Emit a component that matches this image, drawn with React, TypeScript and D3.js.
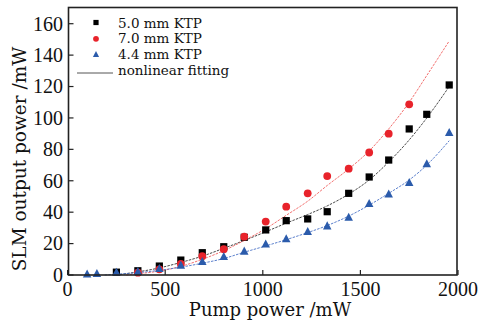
import React from "react";
import * as d3 from "d3";

// pump power (mW) where each series was measured
const pumpX = [100, 150, 250, 360, 470, 580, 690, 800, 905, 1015, 1120, 1230, 1330, 1440, 1545, 1645, 1750, 1840, 1955];

// measured output power (mW), null = not measured
const ktp50 = [null, null, 1.8, 2.7, 5.7, 9.5, 14.2, 18, 24, 28.7, 34.6, 35.7, 40.3, 52, 62.4, 73.2, 93, 102.3, 121];
const ktp70 = [null, null, null, 1.5, 3.6, 7, 12, 16.4, 24.4, 34, 43.5, 52, 63, 67.7, 78, 90, 108.7, null, null];
const ktp44 = [0.6, 0.9, 1.7, 2.1, 4, 6.2, 8.5, 11.7, 15.1, 19.7, 23, 27.6, 31.2, 36.7, 45.4, 51.5, 58.8, 70.7, 90.6];

// nonlinear fitting curves
const fit50X = [250, 360, 470, 580, 690, 800, 905, 1015, 1120, 1230, 1330, 1440, 1545, 1645, 1750, 1840, 1955];
const fit50Y = [0, 2, 4.5, 8, 12, 17, 22, 27.5, 33, 38.5, 44, 51.5, 60.5, 72, 86, 100, 120];
const fit70X = [300, 360, 470, 580, 690, 800, 905, 1015, 1120, 1230, 1330, 1440, 1545, 1645, 1750, 1840, 1955];
const fit70Y = [0, 0.8, 2.5, 5.5, 10, 15.5, 22, 29.5, 38, 47, 57, 67.5, 79, 93, 110, 127, 149];
const fit44X = [190, 250, 360, 470, 580, 690, 800, 905, 1015, 1120, 1230, 1330, 1440, 1545, 1645, 1750, 1840, 1955];
const fit44Y = [0, 0.5, 1.5, 3, 5, 7.5, 10.5, 14.5, 18.5, 22.5, 27, 31.5, 37.5, 44.5, 52, 60.5, 70, 85.5];

const xTicks = [0, 500, 1000, 1500, 2000];
const yTicks = [0, 20, 40, 60, 80, 100, 120, 140, 160];
const legendNames = ["5.0 mm KTP", "7.0 mm KTP", "4.4 mm KTP", "nonlinear fitting"];

const W = 493;
const H = 325;
const tickFont = "'Liberation Serif', serif";
const labelFont = "'DejaVu Serif', serif";

const x = d3.scaleLinear().domain([0, 2000]).range([67.6, 458]);
const y = d3.scaleLinear().domain([0, 170]).range([275, 8]);

const black = "#000000";
const red = "#e8232b";
const blue = "#2b5bab";

function pts(vals: (number | null)[]) {
  return pumpX
    .map((px, i) => ({ px, v: vals[i] }))
    .filter(d => d.v !== null) as { px: number; v: number }[];
}

const fitLine = d3
  .line<[number, number]>()
  .x(d => x(d[0]))
  .y(d => y(d[1]))
  .curve(d3.curveMonotoneX);

const tri = (cx: number, cy: number, s: number) =>
  `M${cx},${cy - s * 0.55}L${cx + s / 2},${cy + s * 0.4}L${cx - s / 2},${cy + s * 0.4}Z`;

export default function App() {
  const left = 68.5;
  const right = 457;
  const top = 7.5;
  const bottom = y(0);
  return (
    <svg width={W} height={H} style={{ position: "absolute", left: 0, top: 0, background: "#fff" }}>
      <rect x={0} y={0} width={W} height={H} fill="#fff" />
      {/* fitting curves */}
      <path d={fitLine(d3.zip(fit50X, fit50Y) as [number, number][]) || ""} fill="none" stroke="#333" strokeWidth={0.9} strokeDasharray="2.5,1.2" />
      <path d={fitLine(d3.zip(fit70X, fit70Y) as [number, number][]) || ""} fill="none" stroke="#f0605f" strokeWidth={0.9} strokeDasharray="2.5,1.2" />
      <path d={fitLine(d3.zip(fit44X, fit44Y) as [number, number][]) || ""} fill="none" stroke="#4a72c6" strokeWidth={0.9} strokeDasharray="2.5,1.2" />
      {/* markers */}
      {pts(ktp50).map((d, i) => (
        <rect key={"s" + i} x={x(d.px) - 3.6} y={y(d.v) - 3.6} width={7.2} height={7.2} fill={black} />
      ))}
      {pts(ktp70).map((d, i) => (
        <circle key={"c" + i} cx={x(d.px)} cy={y(d.v)} r={3.9} fill={red} />
      ))}
      {pts(ktp44).map((d, i) => (
        <path key={"t" + i} d={tri(x(d.px), y(d.v), 8.5)} fill={blue} />
      ))}
      {/* frame */}
      <rect x={left} y={top} width={right - left} height={bottom - top} fill="none" stroke="#222" strokeWidth={1.6} />
      {xTicks.map(t => (
        <g key={"xt" + t}>
          <line x1={x(t)} x2={x(t)} y1={bottom} y2={bottom - 5} stroke="#222" strokeWidth={1.2} />
          <text x={x(t)} y={296} textAnchor="middle" fontFamily={tickFont} fontSize={20} fill="#111">{t}</text>
        </g>
      ))}
      {yTicks.map(t => (
        <g key={"yt" + t}>
          <line x1={left} x2={left + 5} y1={y(t)} y2={y(t)} stroke="#222" strokeWidth={1.2} />
          <text x={63} y={y(t)} dy="0.34em" textAnchor="end" fontFamily={tickFont} fontSize={20} fill="#111">{t}</text>
        </g>
      ))}
      {/* axis titles */}
      <text x={270} y={316} textAnchor="middle" fontFamily={labelFont} fontSize={18} fill="#111">Pump power /mW</text>
      <text transform="translate(26,159) rotate(-90)" textAnchor="middle" fontFamily={labelFont} fontSize={18.5} fill="#111">SLM output power /mW</text>
      {/* legend */}
      <rect x={96 - 2.6} y={22.5 - 2.6} width={5.2} height={5.2} fill={black} />
      <circle cx={96} cy={38.8} r={2.9} fill={red} />
      <path d={tri(96, 54.5, 6.2)} fill={blue} />
      <line x1={77} x2={113} y1={73} y2={73} stroke="#555" strokeWidth={1} />
      {legendNames.map((n, i) => (
        <text key={n} x={118} y={27.5 + i * 15.8} fontFamily={labelFont} fontSize={13.5} fill="#111">{n}</text>
      ))}
    </svg>
  );
}
